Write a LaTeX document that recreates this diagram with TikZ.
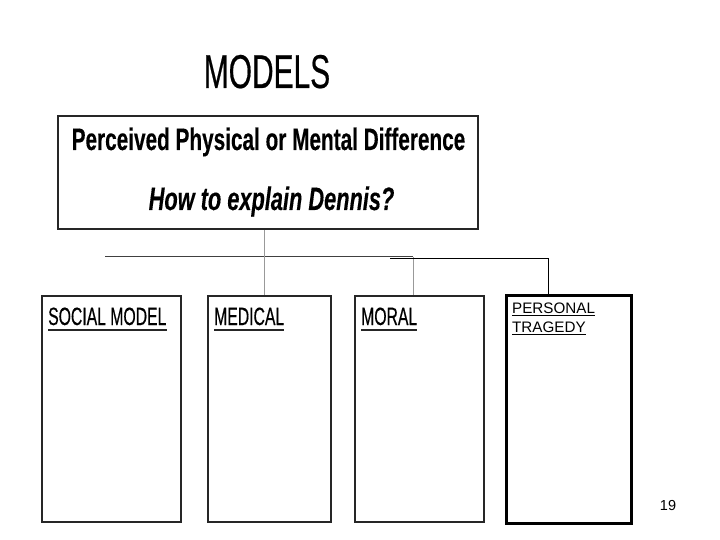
\documentclass[tikz,border=0pt]{standalone}
\usepackage{fontspec}
\setmainfont{Liberation Sans}
\newfontfamily\narrowreg[FakeStretch=0.63, FakeBold=0.4]{Liberation Sans}
\newfontfamily\narrowbf[FakeStretch=0.67, FakeBold=0.25]{Liberation Sans}
\tikzset{
  modelbox/.style={draw=black!85, line width=1.8pt, inner sep=0, anchor=north west},
  tragedybox/.style={draw=black, line width=3.4pt, inner sep=0, anchor=north west},
  heading/.style={inner sep=0, anchor=base west, font=\narrowreg\fontsize{25}{28}\selectfont},
  plainlabel/.style={inner sep=0, anchor=base west, font=\fontsize{15.2}{18}\selectfont},
  darklink/.style={draw=black!75, line width=1.4pt},
  graylink/.style={draw=black!40, line width=0.9pt},
  blacklink/.style={draw=black, line width=1pt},
}
\begin{document}
\begin{tikzpicture}[x=1pt, y=-1pt]
            \useasboundingbox (0,0) rectangle (720,540);

            % Title and the question box
            \node[inner sep=0, anchor=base] (title) at (267,88) {\narrowreg\fontsize{47.5}{50}\selectfont MODELS};
            \node[modelbox, line width=2.2pt, minimum width=420pt, minimum height=113pt] (question) at (57,115) {};
            \node[inner sep=0, anchor=base] (difference) at (268.5,150) {\narrowbf\bfseries\fontsize{31}{34}\selectfont Perceived Physical or Mental Difference};
            \node[inner sep=0, anchor=base] (dennis) at (271.5,210) {\narrowbf\bfseries\itshape\fontsize{32.5}{35}\selectfont How to explain Dennis?};

            % The four model boxes
            \node[modelbox, minimum width=139pt, minimum height=226pt] (social) at (41,295) {}; % Social model
            \node[modelbox, minimum width=123pt, minimum height=226pt] (medical) at (207,295) {}; % Medical
            \node[modelbox, minimum width=129pt, minimum height=226pt] (moral) at (354,295) {}; % Moral
            \node[tragedybox, minimum width=125pt, minimum height=228pt] (personal) at (505,294) {}; % Personal tragedy

            % Box headings, underlined
            \node[heading] (socialhead) at (48,325) {SOCIAL MODEL};
            \node[heading] (medicalhead) at (214,325) {MEDICAL};
            \node[heading] (moralhead) at (361,325) {MORAL};
            \node[plainlabel] (personalhead) at (512,313) {PERSONAL};
            \node[plainlabel] (tragedyhead) at (512,332) {TRAGEDY};
            \foreach \lbl in {socialhead,medicalhead,moralhead}
                \draw[line width=2pt, black!85] ([yshift=-4.5]\lbl.base west) -- ([yshift=-4.5]\lbl.base east);
            \foreach \lbl in {personalhead,tragedyhead}
                \draw[line width=0.8pt] ([yshift=-2.2]\lbl.base west) -- ([yshift=-2.2]\lbl.base east);

            % Connectors
            \coordinate (hubL) at (105,256.5);
            \coordinate (hubR) at (413,256.5);
            \coordinate (tap) at (390,258);
            \draw[darklink] (hubL) -- (hubR); % Long bar
            \draw[graylink] ([xshift=-4]question.south) -- ([xshift=-4]question.south |- medical.north); % Question to medical
            \draw[graylink] (hubR) -- (hubR |- moral.north); % Bar to moral
            \draw[blacklink] (tap) -| ([xshift=-21]personal.north); % Bar to personal tragedy

            % Page number
            \node[inner sep=0, anchor=base] (page) at (668,510) {\fontsize{14.5}{16}\selectfont 19};
        \end{tikzpicture}
\end{document}
